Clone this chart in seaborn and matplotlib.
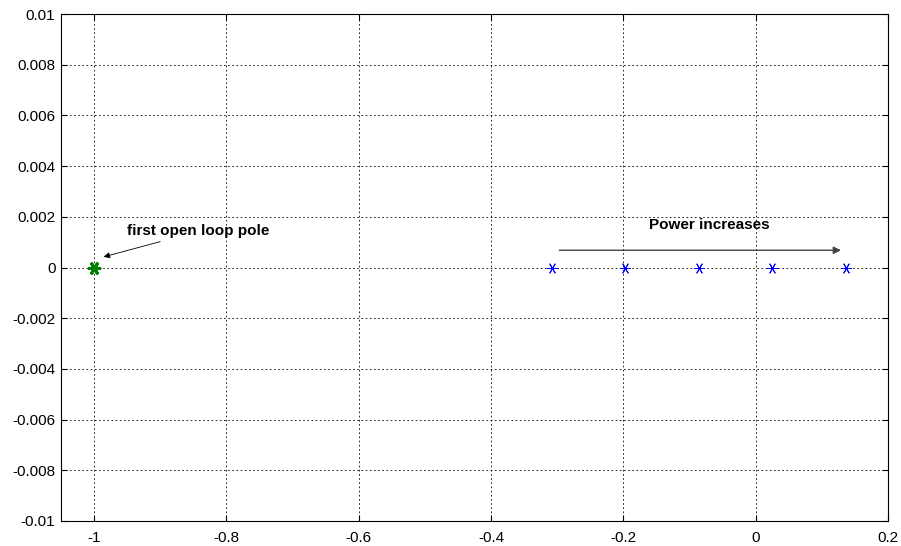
import numpy as np
import pandas as pd
import matplotlib.pyplot as plt
import seaborn as sns

# polos (parte real / imaginaria)
open_loop_re = [-1.0]
open_loop_im = [0.0]
closed_re = [-0.3084, -0.1976, -0.0853, 0.0242, 0.1365]
closed_im = [0.0, 0.0, 0.0, 0.0, 0.0]

x_ticks = [-1, -0.8, -0.6, -0.4, -0.2, 0, 0.2]
y_ticks = [-0.01, -0.008, -0.006, -0.004, -0.002, 0, 0.002, 0.004, 0.006, 0.008, 0.01]
y_labels = ["-0.01", "-0.008", "-0.006", "-0.004", "-0.002", "0",
            "0.002", "0.004", "0.006", "0.008", "0.01"]

sns.set_style("white")
plt.rcParams["font.family"] = ["Liberation Sans", "DejaVu Sans"]
plt.rcParams["text.color"] = "black"

fig = plt.figure(figsize=(9.01, 5.46), dpi=100)
ax = fig.add_axes([61 / 901, 1 - 521 / 546, 827 / 901, 507 / 546])

df_ol = pd.DataFrame({"re": open_loop_re, "im": open_loop_im})
df_cl = pd.DataFrame({"re": closed_re, "im": closed_im})

sns.scatterplot(data=df_cl, x="re", y="im", ax=ax, marker=(6, 2, 90), s=55,
                color="blue", edgecolor="blue", linewidth=0.7, zorder=3)
sns.scatterplot(data=df_ol, x="re", y="im", ax=ax, marker=(6, 2, 90), s=60,
                color="green", edgecolor="green", linewidth=2.2, zorder=3)

ax.set_xlim(-1.05, 0.2)
ax.set_ylim(-0.01, 0.01)
ax.set_xticks(x_ticks)
ax.set_xticklabels(["-1", "-0.8", "-0.6", "-0.4", "-0.2", "0", "0.2"])
ax.set_yticks(y_ticks)
ax.set_yticklabels(y_labels)
ax.set_xlabel("")
ax.set_ylabel("")
ax.tick_params(direction="in", length=4, labelsize=11, colors="black",
               top=True, right=True, bottom=True, left=True)
ax.tick_params(axis="x", pad=7)
ax.tick_params(axis="y", pad=4)
ax.grid(True, linestyle=(0, (2, 3)), color="black", linewidth=0.6)
for sp in ax.spines.values():
    sp.set_color("black")
    sp.set_linewidth(0.8)

ax.annotate("first open loop pole", xy=(-0.9855, 0.00042), xytext=(-0.950, 0.00115),
            fontsize=11, fontweight="bold", va="bottom", ha="left", color="black",
            arrowprops=dict(arrowstyle="-|>", color="black", lw=0.6,
                            mutation_scale=9, shrinkA=0, shrinkB=0))
ax.annotate("", xy=(0.129, 0.00068), xytext=(-0.2967, 0.00068),
            arrowprops=dict(arrowstyle="-|>", color="#444444", lw=1.0,
                            mutation_scale=11, shrinkA=0, shrinkB=0))
ax.text(-0.0706, 0.00166, "Power increases", fontsize=11, fontweight="bold",
        ha="center", va="center", color="black")

plt.savefig("out.png", dpi=100)
